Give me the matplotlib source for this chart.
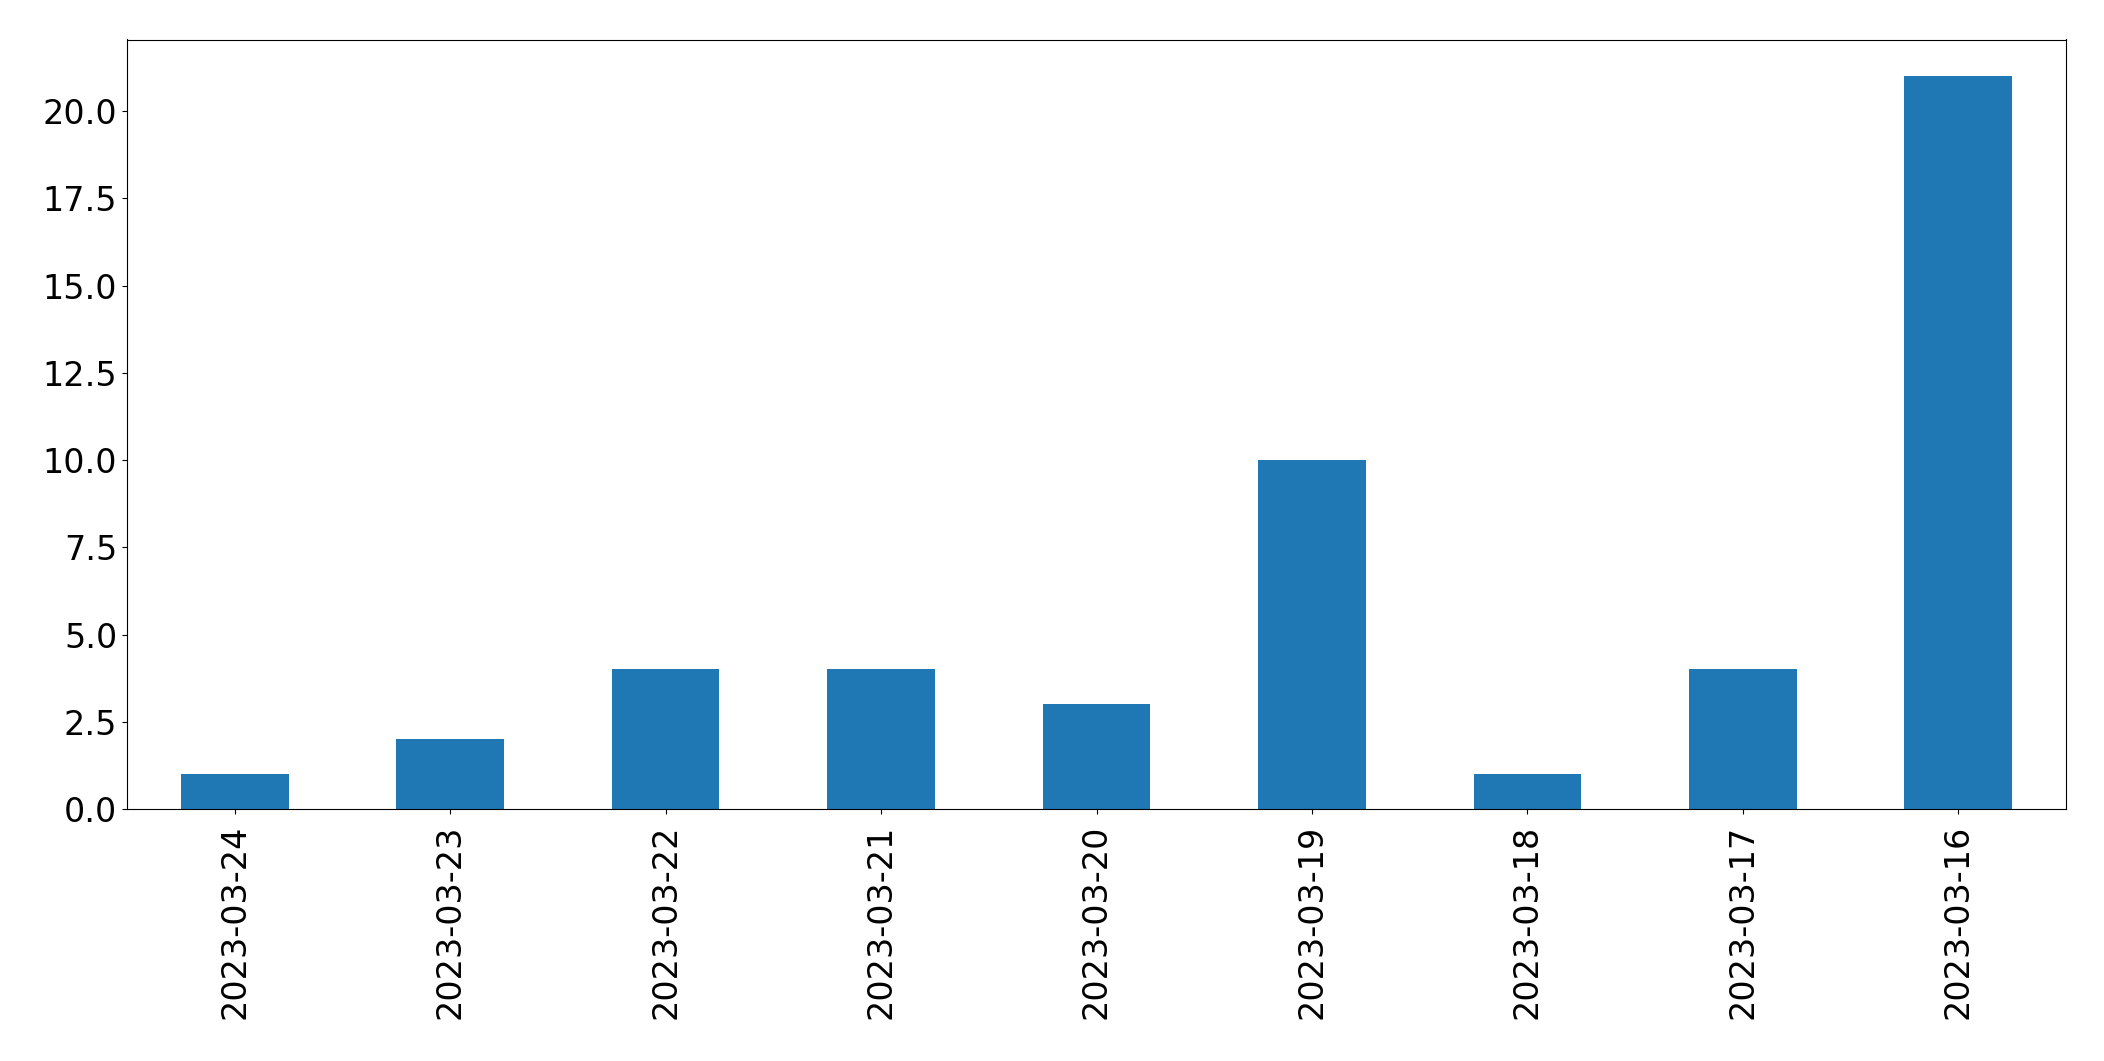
import matplotlib
matplotlib.use("Agg")
import matplotlib.pyplot as plt
import numpy as np

# fechas y conteos
dates = ['2023-03-24', '2023-03-23', '2023-03-22', '2023-03-21', '2023-03-20',
         '2023-03-19', '2023-03-18', '2023-03-17', '2023-03-16']
counts = [1, 2, 4, 4, 3, 10, 1, 4, 21]

fig = plt.figure(figsize=(21.04, 10.61), dpi=100)
ax = fig.add_axes([127 / 2104, 1 - 809 / 1061, (2066 - 127) / 2104, (809 - 39.5) / 1061])

x = np.arange(len(dates))
ax.bar(x, counts, width=0.5, color='#1f77b4')
ax.set_xticks(x)
ax.set_xticklabels(dates, rotation=90)
ax.set_xlim(-0.5, len(dates) - 0.5)
ax.set_ylim(0, 22.05)
ax.set_yticks(np.arange(0, 22.5, 2.5))
ax.set_yticklabels(['%.1f' % v for v in np.arange(0, 22.5, 2.5)])
ax.tick_params(labelsize=24)
ax.tick_params(axis='x', pad=8)

plt.savefig("out.png")
